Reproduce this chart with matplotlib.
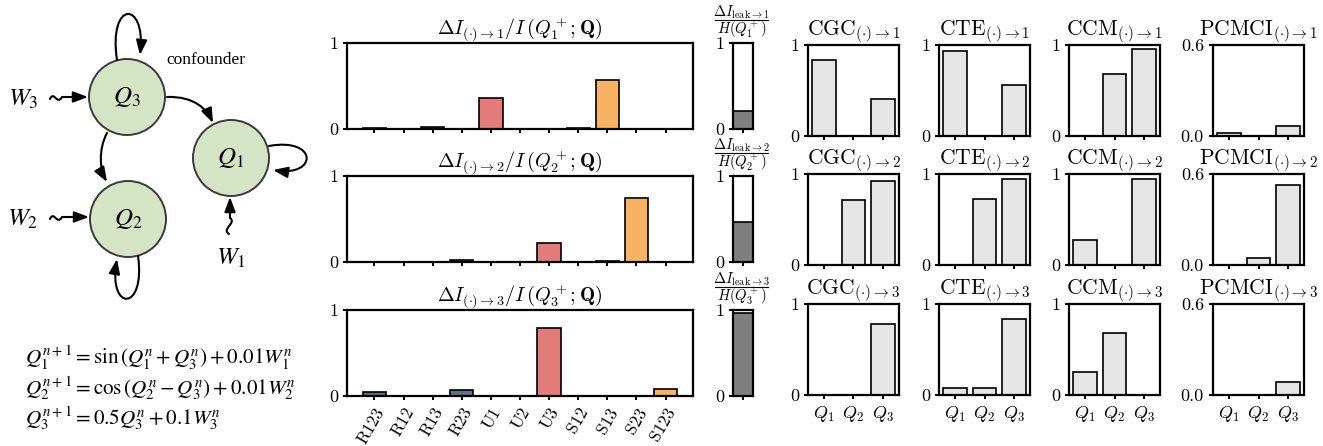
import matplotlib
matplotlib.use('Agg')
import matplotlib.pyplot as plt
from matplotlib.patches import Circle, FancyArrowPatch
from matplotlib.path import Path

plt.rcParams['font.family'] = 'cmr10'
plt.rcParams['mathtext.fontset'] = 'cm'
plt.rcParams['axes.unicode_minus'] = False
plt.rcParams['axes.linewidth'] = 1.6
plt.rcParams['xtick.major.width'] = 1.4
plt.rcParams['ytick.major.width'] = 1.4
plt.rcParams['xtick.major.size'] = 3
plt.rcParams['ytick.major.size'] = 3

# normalised information decomposition (sources -> target)
sources = ['R123', 'R12', 'R13', 'R23', 'U1', 'U2', 'U3', 'S12', 'S13', 'S23', 'S123']
di_to1 = [0.012, 0.0, 0.023, 0.0, 0.36, 0.0, 0.0, 0.01, 0.565, 0.0, 0.0]
di_to2 = [0.0, 0.0, 0.0, 0.02, 0.0, 0.0, 0.22, 0.0, 0.015, 0.74, 0.0]
di_to3 = [0.047, 0.0, 0.0, 0.07, 0.0, 0.0, 0.787, 0.0, 0.0, 0.0, 0.085]
leak = [0.21, 0.47, 0.96]

# other causality methods, rows = target 1,2,3
vars_q = ['$Q_1$', '$Q_2$', '$Q_3$']
cgc = [[0.83, 0.0, 0.41], [0.005, 0.71, 0.925], [0.0, 0.0, 0.785]]
cte = [[0.93, 0.0, 0.56], [0.005, 0.73, 0.95], [0.08, 0.08, 0.84]]
ccm = [[0.0, 0.68, 0.955], [0.28, 0.0, 0.945], [0.255, 0.68, 0.0]]
pcmci = [[0.02, 0.0, 0.067], [0.0, 0.044, 0.53], [0.0, 0.0, 0.087]]

kind_color = {'R': '#5b7384', 'U': '#e47b7b', 'S': '#f8b263'}
bar_colors = [kind_color[s[0]] for s in sources]

W, H = 1323, 446
fig = plt.figure(figsize=(W / 100, H / 100), dpi=100)


def box(x0, x1, top, bot):
    return [x0 / W, 1 - bot / H, (x1 - x0) / W, (bot - top) / H]


# ---------------- diagram ----------------
axd = fig.add_axes([0, 0, 330 / W, 1])
axd.set_xlim(0, 330)
axd.set_ylim(H, 0)
axd.axis('off')

nodes = {'1': (231, 158), '2': (128, 219), '3': (127, 97)}
for k, (x, y) in nodes.items():
    axd.add_patch(Circle((x, y), 38, fc='#d6e4c6', ec='#3a3a3a', lw=1.4))
    axd.text(x, y, '$Q_%s$' % k, fontsize=18, ha='center', va='center', math_fontfamily='stix')

akw = dict(arrowstyle='-|>,head_length=0.8,head_width=0.3', mutation_scale=11, lw=1.5, color='k')
C4 = Path.CURVE4
paths = [
    ([(117, 60), (108, 0), (146, 0), (140, 55)], [Path.MOVETO, C4, C4, C4]),
    ([(138, 256), (146, 312), (108, 312), (117, 259)], [Path.MOVETO, C4, C4, C4]),
    ([(269, 146), (318, 137), (318, 177), (273, 170)], [Path.MOVETO, C4, C4, C4]),
    ([(167, 97), (195, 96), (207, 110), (213, 123)], [Path.MOVETO, C4, C4, C4]),
    ([(107, 133), (98, 150), (100, 170), (107, 182)], [Path.MOVETO, C4, C4, C4]),
    ([(50, 99), (54, 90), (57, 106), (62, 97), (88, 97)], [Path.MOVETO, C4, C4, C4, Path.LINETO]),
    ([(50, 219), (54, 210), (57, 226), (62, 217), (89, 217)], [Path.MOVETO, C4, C4, C4, Path.LINETO]),
    ([(229, 234), (221, 229), (237, 223), (230, 218), (230, 197)], [Path.MOVETO, C4, C4, C4, Path.LINETO]),
]
for v, c in paths:
    axd.add_patch(FancyArrowPatch(path=Path(v, c), **akw))

axd.text(23, 99, '$W_3$', fontsize=18, ha='center', va='center', math_fontfamily='stix')
axd.text(23, 219, '$W_2$', fontsize=18, ha='center', va='center', math_fontfamily='stix')
axd.text(231, 258, '$W_1$', fontsize=18, ha='center', va='center', math_fontfamily='stix')
axd.text(206, 60, 'confounder', fontsize=12.5, ha='center', va='center', family='Liberation Serif')

eqs = [r'$Q_1^{n+1} = \sin\left(Q_1^n + Q_3^n\right) + 0.01W_1^n$',
       r'$Q_2^{n+1} = \cos\left(Q_2^n - Q_3^n\right) + 0.01W_2^n$',
       r'$Q_3^{n+1} = 0.5Q_3^n + 0.1W_3^n$']
for i, e in enumerate(eqs):
    axd.text(25, 365 + 30 * i, e, fontsize=15.2, ha='left', va='baseline', math_fontfamily='stix')

# ---------------- information decomposition ----------------
di_rows = [di_to1, di_to2, di_to3]
main_tops = [43, 176, 310]
meth_tops = [45, 174, 304]
for r in range(3):
    ax = fig.add_axes(box(347, 693, main_tops[r], main_tops[r] + 86))
    ax.bar(range(len(sources)), di_rows[r], width=0.8, color=bar_colors, edgecolor='k', lw=1.2)
    ax.set_ylim(0, 1)
    ax.set_yticks([0, 1])
    ax.set_yticklabels(['0', '1'], fontsize=13)
    ax.set_xticks(range(len(sources)))
    if r == 2:
        ax.set_xticklabels(sources, rotation=60, ha='right', rotation_mode='anchor', fontsize=12.5)
    else:
        ax.set_xticklabels([])
    ax.set_title(r'$\Delta I_{(\cdot)\to %d}/I\,(Q_%d^+;\mathbf{Q})$' % (r + 1, r + 1), fontsize=14.5, pad=3)

    axl = fig.add_axes(box(733, 753, main_tops[r], main_tops[r] + 86))
    axl.bar([0], [leak[r]], width=1.0, color='#7f7f7f', edgecolor='k', lw=1.2)
    axl.set_xlim(-0.5, 0.5)
    axl.set_ylim(0, 1)
    axl.set_yticks([0, 1])
    axl.set_yticklabels(['0', '1'], fontsize=13)
    axl.set_xticks([0])
    axl.set_xticklabels([])
    # fraction title: numerator, bar, denominator
    axl.text(0.43, 1.36, r'$\Delta I_{\mathrm{leak}\to %d}$' % (r + 1), fontsize=10.5,
             ha='center', va='center', transform=axl.transAxes)
    axl.plot([-0.9, 1.75], [1.27, 1.27], color='k', lw=0.8, transform=axl.transAxes, clip_on=False)
    axl.text(0.43, 1.165, r'$H(Q_%d^+)$' % (r + 1), fontsize=10.5,
             ha='center', va='center', transform=axl.transAxes)

# ---------------- other methods ----------------
methods = [('CGC', cgc, 808), ('CTE', cte, 939), ('CCM', ccm, 1069), ('PCMCI', pcmci, 1213)]
for name, vals, x0 in methods:
    for r in range(3):
        ax = fig.add_axes(box(x0, x0 + 91, meth_tops[r], meth_tops[r] + 91))
        ax.bar(range(3), vals[r], width=0.8, color='#e5e5e5', edgecolor='k', lw=1.2)
        if name == 'PCMCI':
            ax.set_ylim(0, 0.6)
            ax.set_yticks([0, 0.6])
            ax.set_yticklabels(['0.0', '0.6'], fontsize=13)
        else:
            ax.set_ylim(0, 1)
            ax.set_yticks([0, 1])
            ax.set_yticklabels(['0', '1'], fontsize=13)
        ax.set_xticks(range(3))
        if r == 2:
            ax.set_xticklabels(vars_q, fontsize=13)
        else:
            ax.set_xticklabels([])
        ax.set_title(r'$\mathrm{%s}_{(\cdot)\to %d}$' % (name, r + 1), fontsize=15.5, pad=2)

fig.savefig('out.png', dpi=100)
